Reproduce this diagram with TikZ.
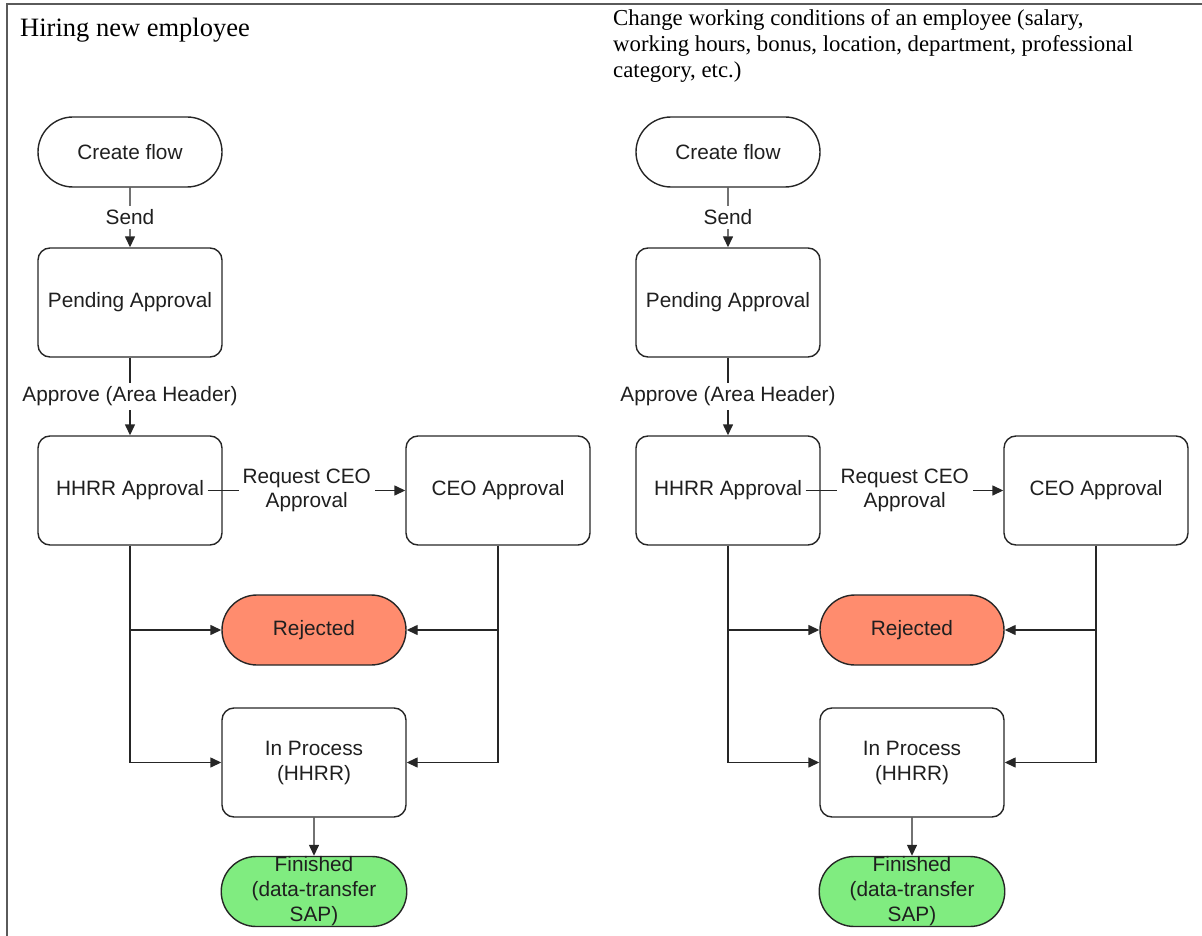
\documentclass[tikz,border=0pt]{standalone}
\usepackage{fontspec}
\setmainfont{Liberation Serif}
\newfontfamily\flowfont{Liberation Sans}
\usetikzlibrary{arrows.meta,shapes.misc}

\definecolor{edgegray}{HTML}{262626}
\definecolor{framegray}{HTML}{5A5A5A}
\definecolor{rejectfill}{HTML}{FF8C6E}
\definecolor{finishfill}{HTML}{80EC80}

\tikzset{
  x=1pt, y=-1pt,
  base/.style={draw=edgegray, line width=1.4pt, minimum width=184pt, align=center,
    inner sep=0pt, text=black!88, font=\flowfont\fontsize{20.8}{25}\selectfont},
  state/.style={base, rectangle, rounded corners=12pt, minimum height=109pt},
  terminal/.style={base, rounded rectangle, minimum height=70pt},
  conn/.style={draw=edgegray, line width=1.4pt, -{Triangle[length=11pt,width=10pt]}},
  lbl/.style={fill=white, inner sep=4pt, align=center, text=black!88,
    font=\flowfont\fontsize{20.8}{24}\selectfont},
}

\begin{document}
\begin{tikzpicture}
\useasboundingbox (0,0) rectangle (1202,936);

% frame along the top and left edge
\draw[framegray, line width=1.5pt] (7,936) -- (7,4) -- (1202,4);

% section headings
\node[anchor=base west, inner sep=0pt, font=\fontsize{26.5}{30}\selectfont] (titleL) at (20,37) {Hiring new employee};
\node[anchor=north west, inner sep=0pt, align=left, font=\fontsize{22.8}{26}\selectfont] (titleR) at (613,9.5)
  {Change working conditions of an employee (salary,\\working hours, bonus, location, department, professional\\category, etc.)};

% the same approval workflow, drawn twice
\foreach \p/\dx in {L/0, R/598} {
  \begin{scope}[xshift=\dx pt]
    \node[terminal] (\p-create)   at (130,152)   {Create flow};
    \node[state]    (\p-pending)  at (130,302.5) {Pending Approval};
    \node[state]    (\p-hhrr)     at (130,490.5) {HHRR Approval};
    \node[state]    (\p-ceo)      at (498,490.5) {CEO Approval};
    \node[terminal, fill=rejectfill] (\p-rejected) at (314,630) {Rejected};
    \node[state]    (\p-inproc)   at (314,762.5) {In Process\\(HHRR)};
    \node[terminal, fill=finishfill] (\p-finished) at (314,891.5) {Finished\\(data-transfer\\SAP)};

    \draw[conn] (\p-create) -- node[lbl] {Send} (\p-pending);
    \draw[conn] (\p-pending) -- node[lbl] {Approve (Area Header)} (\p-hhrr);
    \draw[conn, shorten <=-15pt] (\p-hhrr) -- node[lbl, pos=0.46] {Request CEO\\Approval} (\p-ceo);
    \draw[conn] (\p-hhrr.south) |- (\p-rejected.west);
    \draw[conn] (\p-hhrr.south) |- (\p-inproc.west);
    \draw[conn] (\p-ceo.south) |- (\p-rejected.east);
    \draw[conn] (\p-ceo.south) |- (\p-inproc.east);
    \draw[conn] (\p-inproc) -- (\p-finished);
  \end{scope}
}
\end{tikzpicture}
\end{document}
